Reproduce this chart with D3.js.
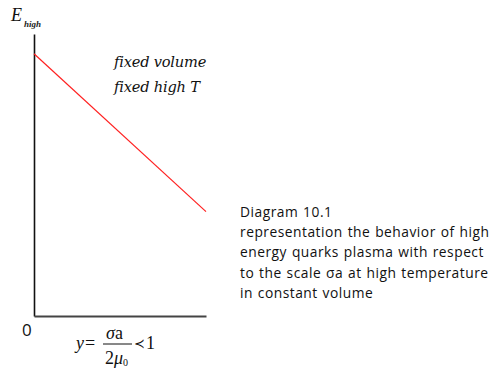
<!DOCTYPE html>
<html>
<head>
<meta charset="utf-8">
<script src="https://cdn.jsdelivr.net/npm/d3@7"></script>
<style>
  html, body { margin: 0; padding: 0; background: #fff; }
  svg { display: block; }
</style>
</head>
<body>
<svg id="chart" width="497" height="368"></svg>
<script>
// ---- data ----
const xValues = [0, 1];            // normalized scale y = σa / 2μ0
const energyValues = [0.93, 0.37]; // E_high (relative)
const annotationLines = ["fixed volume", "fixed high T"];
const captionLines = [
  "Diagram 10.1",
  "representation the behavior of high",
  "energy quarks plasma with respect",
  "to the scale σa at high temperature",
  "in constant volume"
];
const originLabel = "0";

// ---- drawing ----
const svg = d3.select("#chart");
const x = d3.scaleLinear().domain([0, 1]).range([34, 206]);
const y = d3.scaleLinear().domain([0, 1]).range([316, 34]);

svg.append("g")
  .attr("transform", `translate(${x(0)},0)`)
  .call(d3.axisLeft(y).tickValues([]).tickSizeOuter(0))
  .select(".domain").attr("stroke", "#111").attr("stroke-width", 1.6);
svg.append("g")
  .attr("transform", `translate(0,${y(0)})`)
  .call(d3.axisBottom(x).tickValues([]).tickSizeOuter(0))
  .select(".domain").attr("stroke", "#444").attr("stroke-width", 2);

const pts = xValues.map((v, i) => [v, energyValues[i]]);
svg.append("path")
  .datum(pts)
  .attr("fill", "none")
  .attr("stroke", "#ff2020")
  .attr("stroke-width", 1.2)
  .attr("d", d3.line().x(d => x(d[0])).y(d => y(d[1])));

const serif = "'Liberation Serif', 'Times New Roman', serif";
const iserif = "'DejaVu Serif', serif";

// y-axis label E_high
svg.append("text").attr("x", 11).attr("y", 21)
  .attr("font-family", serif).attr("font-style", "italic").attr("font-size", 18)
  .attr("fill", "#111").text("E");
svg.append("text").attr("x", 24).attr("y", 27)
  .attr("font-family", serif).attr("font-style", "italic").attr("font-size", 9)
  .attr("font-weight", "bold").attr("fill", "#222").text("high");

// annotation
svg.selectAll("text.anno").data(annotationLines).enter().append("text")
  .attr("class", "anno")
  .attr("x", 114).attr("y", (d, i) => 67 + i * 25)
  .attr("font-family", iserif).attr("font-style", "italic").attr("font-size", 14.6)
  .attr("letter-spacing", -0.2)
  .attr("fill", "#111")
  .text(d => d);

// origin
svg.append("text").attr("x", 22).attr("y", 336)
  .attr("font-family", "'Open Sans', sans-serif").attr("font-size", 17)
  .attr("fill", "#111").text(originLabel);

// formula
const f = svg.append("g").attr("font-family", serif).attr("font-size", 18).attr("fill", "#111");
f.append("text").attr("x", 76).attr("y", 349).attr("font-style", "italic").text("y");
f.append("text").attr("x", 85).attr("y", 349).text("=");
f.append("line").attr("x1", 103).attr("x2", 132).attr("y1", 344).attr("y2", 344)
  .attr("stroke", "#111").attr("stroke-width", 1);
f.append("text").attr("x", 106).attr("y", 339).attr("font-style", "italic").text("σ")
  .append("tspan").attr("font-style", "normal").text("a");
const den = f.append("text").attr("x", 105).attr("y", 364);
den.append("tspan").text("2");
den.append("tspan").attr("font-style", "italic").text("μ");
den.append("tspan").attr("font-size", 10).attr("dy", 2).text("0");
f.append("text").attr("x", 134).attr("y", 348).attr("font-family", "'DejaVu Sans', sans-serif")
  .attr("font-size", 13).text("≺");
f.append("text").attr("x", 146).attr("y", 349).text("1");

// caption
svg.selectAll("text.cap").data(captionLines).enter().append("text")
  .attr("class", "cap")
  .attr("x", 240).attr("y", (d, i) => 217 + i * 20.2)
  .attr("font-family", "'Open Sans', sans-serif").attr("font-size", 13.8)
  .attr("letter-spacing", 0.5)
  .attr("word-spacing", 0.8)
  .attr("fill", "#111")
  .text(d => d);
</script>
</body>
</html>
